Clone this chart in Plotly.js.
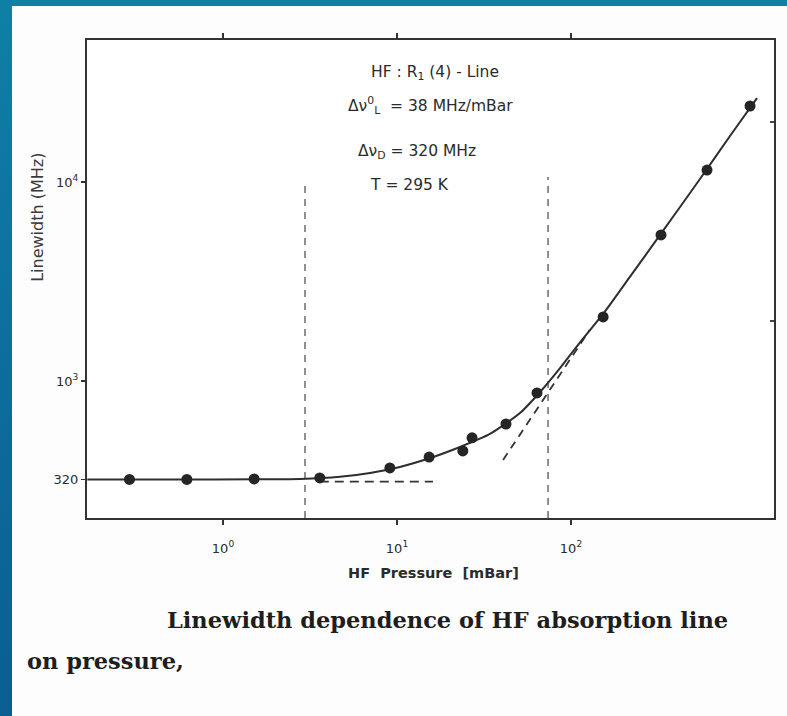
<!DOCTYPE html>
<html>
<head>
<meta charset="utf-8">
<script src="https://cdn.plot.ly/plotly-3.0.1.min.js"></script>
<style>
  html, body { margin: 0; padding: 0; background: #ffffff; }
  #wrap { position: relative; width: 787px; height: 716px; overflow: hidden; background: #fdfdfd; }
  #stripL { position: absolute; left: 0; top: 0; width: 12px; height: 716px;
            background: linear-gradient(to bottom, #0e80a6 0%, #0c6e9c 50%, #0a5e92 100%); }
  #stripT { position: absolute; left: 0; top: 0; width: 787px; height: 6px; background: #0e7fa5; }
  #chart { position: absolute; left: 0; top: 0; width: 787px; height: 716px; }
</style>
</head>
<body>
<div id="wrap">
  <div id="chart"></div>
  <div id="stripL"></div>
  <div id="stripT"></div>
</div>
<script>
// Measured points: HF pressure (mBar) and linewidth (MHz)
const pressure  = [0.29, 0.62, 1.51, 3.6, 9.1, 15.3, 23.9, 27.0, 42.3, 63.8, 153, 329, 605, 1069];
const linewidth = [320, 320, 322, 326, 366, 415, 445, 518, 608, 871, 2100, 5420, 11480, 24100];

// Fitted solid curve
const curveP = [0.166, 0.74, 2.77, 4.7, 7.0, 10.4, 15.5, 23.0, 34.2, 50.9, 66.4, 86.5, 113, 153, 218, 325, 551, 820, 1172];
const curveW = [320, 320, 322, 330, 345, 370, 410, 466, 542, 690, 881, 1162, 1570, 2173, 3335, 5420, 10350, 17020, 26400];

// Dashed asymptotes
const dopplerP = [3.6, 16.1];
const dopplerW = [312, 312];
const lorentzP = [40.7, 128];
const lorentzW = [401, 1803];

// Vertical dashed markers
const vLowP  = [2.96, 2.96];
const vLowW  = [205, 9660];
const vHighP = [73.8, 73.8];
const vHighW = [205, 10600];

// Tick labels
const xTickVals = [1, 10, 100];
const xTickText = ['10<sup>0</sup>', '10<sup>1</sup>', '10<sup>2</sup>'];
const yTickVals = [320, 1000, 10000];
const yTickText = ['320', '10<sup>3</sup>', '10<sup>4</sup>'];
const yRightTickVals = [2000, 20000];

const ink = '#2b2b2b';
const font = 'DejaVu Sans, sans-serif';

const traces = [
  { x: vLowP, y: vLowW, mode: 'lines', line: {color: '#555', width: 1.3, dash: '7px,6px'}, hoverinfo: 'skip', showlegend: false },
  { x: vHighP, y: vHighW, mode: 'lines', line: {color: '#555', width: 1.3, dash: '7px,6px'}, hoverinfo: 'skip', showlegend: false },
  { x: dopplerP, y: dopplerW, mode: 'lines', line: {color: '#333', width: 1.8, dash: '9px,6px'}, hoverinfo: 'skip', showlegend: false },
  { x: lorentzP, y: lorentzW, mode: 'lines', line: {color: '#333', width: 1.8, dash: '8px,6px'}, hoverinfo: 'skip', showlegend: false },
  { x: curveP, y: curveW, mode: 'lines', line: {color: '#2e2e2e', width: 2, shape: 'spline', smoothing: 0.6}, showlegend: false },
  { x: pressure, y: linewidth, mode: 'markers', marker: {color: '#252525', size: 11}, showlegend: false },
  { x: [1], y: [1000], yaxis: 'y2', mode: 'markers', marker: {opacity: 0}, hoverinfo: 'skip', showlegend: false }
];

const yRange = [2.3116, 4.7136];

const infoFont = {family: font, size: 15.5, color: ink};
const capFont = {family: 'DejaVu Serif, serif', size: 22.5, color: '#1e1e1e', weight: 'bold'};

const layout = {
  width: 787, height: 716,
  margin: {l: 87, r: 13, t: 40, b: 198},
  paper_bgcolor: 'rgba(0,0,0,0)',
  plot_bgcolor: '#ffffff',
  font: {family: font, color: ink, size: 13},
  xaxis: {
    type: 'log', range: [-0.7816, 3.1667],
    tickvals: xTickVals, ticktext: xTickText,
    ticks: 'outside', ticklen: 5, tickwidth: 1.5, tickcolor: '#333',
    ticklabelstandoff: 12,
    showline: true, linecolor: '#333', linewidth: 2, mirror: 'ticks',
    showgrid: false, zeroline: false,
    tickfont: {family: font, size: 13, color: ink}
  },
  yaxis: {
    type: 'log', range: yRange,
    tickvals: yTickVals, ticktext: yTickText,
    ticks: 'outside', ticklen: 4, tickwidth: 1.5, tickcolor: '#333',
    showline: true, linecolor: '#333', linewidth: 2, mirror: true,
    showgrid: false, zeroline: false,
    tickfont: {family: font, size: 13, color: ink}
  },
  yaxis2: {
    type: 'log', range: yRange, overlaying: 'y', side: 'right',
    tickvals: yRightTickVals, showticklabels: false,
    ticks: 'inside', ticklen: 4, tickwidth: 1.5, tickcolor: '#444',
    showline: false, showgrid: false, zeroline: false
  },
  annotations: [
    {text: 'HF : R<sub>1</sub> (4) - Line', xref: 'paper', yref: 'paper', x: 0.5066, y: 0.931, xanchor: 'center', yanchor: 'middle', showarrow: false, font: infoFont},
    {text: 'Δν<sup>0</sup><sub>L</sub>  = 38 MHz/mBar', xref: 'paper', yref: 'paper', x: 0.4993, y: 0.864, xanchor: 'center', yanchor: 'middle', showarrow: false, font: infoFont},
    {text: 'Δν<sub>D</sub> = 320 MHz', xref: 'paper', yref: 'paper', x: 0.480, y: 0.766, xanchor: 'center', yanchor: 'middle', showarrow: false, font: infoFont},
    {text: 'T = 295 K', xref: 'paper', yref: 'paper', x: 0.470, y: 0.697, xanchor: 'center', yanchor: 'middle', showarrow: false, font: infoFont},
    {text: 'Linewidth (MHz)', xref: 'paper', yref: 'paper', x: -0.0713, y: 0.628, xanchor: 'center', yanchor: 'middle', textangle: -90, showarrow: false, font: {family: font, size: 16, color: '#3a3a3a'}},
    {text: 'HF  Pressure  [mBar]', xref: 'paper', yref: 'paper', x: 0.5044, y: -0.115, xanchor: 'center', yanchor: 'middle', showarrow: false, font: {family: font, size: 14.5, color: ink, weight: 'bold'}},
    {text: 'Linewidth dependence of HF absorption line', xref: 'paper', yref: 'paper', x: 0.1135, y: -0.2134, xanchor: 'left', yanchor: 'middle', showarrow: false, font: capFont},
    {text: 'on pressure,', xref: 'paper', yref: 'paper', x: -0.0902, y: -0.299, xanchor: 'left', yanchor: 'middle', showarrow: false, font: capFont}
  ]
};

Plotly.newPlot('chart', traces, layout, {displayModeBar: false, staticPlot: true});
</script>
</body>
</html>
